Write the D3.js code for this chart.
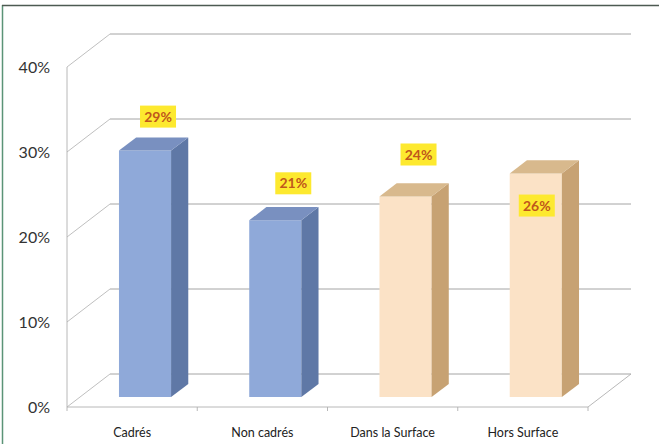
<!DOCTYPE html>
<html>
<head>
<meta charset="utf-8">
<script src="https://cdn.jsdelivr.net/npm/d3@7"></script>
<style>
  html, body { margin: 0; padding: 0; background: #fff; }
  svg { display: block; }
</style>
</head>
<body>
<svg id="chart" width="659" height="444"></svg>
<script>
// ---- data ----
const categories = ["Cadrés", "Non cadrés", "Dans la Surface", "Hors Surface"];
const values = [29.0, 20.8, 23.6, 26.3];          // percent
const groups = ["blue", "blue", "tan", "tan"];
const tickValues = [0, 10, 20, 30, 40];
const tickLabels = ["0%", "10%", "20%", "30%", "40%"];

// ---- layout ----
const W = 659, H = 444;
const left = 67, right = 588, yBottom = 407, yTop = 67;
const DX = 43, DY = 33;           // depth offset of the back wall
const z0 = 0.3, z1 = 0.7;         // bar depth inside the plot box
const faceFrac = 0.4;             // front face width / band width
const labelNudge = [[13, -34], [18, -37], [13, -42], [1, 32]];

const palette = {
  blue: { front: "#8fa9d9", side: "#5f78a6", top: "#7990c0" },
  tan:  { front: "#fbe2c6", side: "#c7a273", top: "#d8b98d" }
};

const svg = d3.select("#chart");

const x = d3.scaleBand().domain(categories).range([left, right]).padding(0);
const y = d3.scaleLinear().domain([0, 40]).range([yBottom, yTop]);

// projection: value v at depth z
const P = (px, v, z) => [px + z * DX, y(v) - z * DY];

// frame border (scanned page edge)
svg.append("line").attr("x1", 2.5).attr("x2", 2.5).attr("y1", 5).attr("y2", H)
  .attr("stroke", "#5b9477").attr("stroke-width", 1.5);
svg.append("line").attr("x1", 2).attr("x2", W).attr("y1", 5.5).attr("y2", 5.5)
  .attr("stroke", "#4d5a52").attr("stroke-width", 1.5);

const grid = svg.append("g");
// back wall gridlines
grid.selectAll("line.back").data(tickValues).join("line")
  .attr("x1", d => P(left, d, 1)[0]).attr("x2", d => P(right, d, 1)[0])
  .attr("y1", d => P(left, d, 1)[1]).attr("y2", d => P(right, d, 1)[1])
  .attr("stroke", "#9a9a9a").attr("stroke-width", 0.9);
// side wall diagonals
grid.selectAll("line.side").data(tickValues).join("line")
  .attr("x1", d => P(left, d, 0)[0]).attr("x2", d => P(left, d, 1)[0])
  .attr("y1", d => P(left, d, 0)[1]).attr("y2", d => P(left, d, 1)[1])
  .attr("stroke", "#b8b8b8").attr("stroke-width", 0.9);
// floor front edge and right edge
grid.append("path")
  .attr("d", d3.line()([P(left, 0, 0), P(right, 0, 0), P(right, 0, 1)]))
  .attr("fill", "none").attr("stroke", "#b0b0b0").attr("stroke-width", 0.9);
// vertical axis
grid.append("line")
  .attr("x1", left).attr("x2", left).attr("y1", y(40)).attr("y2", y(0))
  .attr("stroke", "#b0b0b0").attr("stroke-width", 0.9);
// category ticks on floor edge
const bounds = categories.map(c => x(c)).concat([right]);
grid.selectAll("line.tick").data(bounds).join("line")
  .attr("x1", d => d).attr("x2", d => d)
  .attr("y1", yBottom).attr("y2", yBottom + 4)
  .attr("stroke", "#b0b0b0").attr("stroke-width", 0.9);

// y tick labels
svg.append("g").selectAll("text").data(tickValues).join("text")
  .attr("x", 50).attr("y", d => y(d)).attr("dy", "0.36em")
  .attr("text-anchor", "end")
  .attr("font-family", "Lato, 'Open Sans', sans-serif").attr("font-size", 16)
  .attr("fill", "#333")
  .text((d, i) => tickLabels[i]);

// category labels
svg.append("g").selectAll("text").data(categories).join("text")
  .attr("x", d => x(d) + x.bandwidth() / 2).attr("y", 437)
  .attr("text-anchor", "middle")
  .attr("font-family", "Lato, 'Open Sans', sans-serif").attr("font-size", 12.5)
  .attr("fill", "#222")
  .text(d => d);

// bars
const bw = x.bandwidth() * faceFrac;
const bars = svg.append("g").selectAll("g").data(categories).join("g");
bars.each(function (c, i) {
  const g = d3.select(this);
  const col = palette[groups[i]];
  const xl = x(c) + x.bandwidth() / 2 - bw / 2, xr = xl + bw;
  const v = values[i];
  const poly = pts => d3.line()(pts) + "Z";
  // front
  g.append("path").attr("d", poly([P(xl, 0, z0), P(xr, 0, z0), P(xr, v, z0), P(xl, v, z0)]))
    .attr("fill", col.front);
  // side
  g.append("path").attr("d", poly([P(xr, 0, z0), P(xr, 0, z1), P(xr, v, z1), P(xr, v, z0)]))
    .attr("fill", col.side);
  // top
  g.append("path").attr("d", poly([P(xl, v, z0), P(xr, v, z0), P(xr, v, z1), P(xl, v, z1)]))
    .attr("fill", col.top);
});

// value labels
const lab = svg.append("g").selectAll("g").data(categories).join("g")
  .attr("transform", (c, i) => {
    const fx = x(c) + x.bandwidth() / 2;
    const [px, py] = P(fx, values[i], z0);
    return `translate(${px + labelNudge[i][0]},${py + labelNudge[i][1]})`;
  });
lab.append("rect").attr("x", -18).attr("y", -11).attr("width", 36).attr("height", 22)
  .attr("fill", "#fde92f");
lab.append("text").attr("text-anchor", "middle").attr("dy", "0.36em")
  .attr("font-family", "Lato, 'Open Sans', sans-serif").attr("font-size", 14)
  .attr("font-weight", "bold").attr("fill", "#c0571c")
  .text((c, i) => Math.round(values[i]) + "%");
</script>
</body>
</html>
